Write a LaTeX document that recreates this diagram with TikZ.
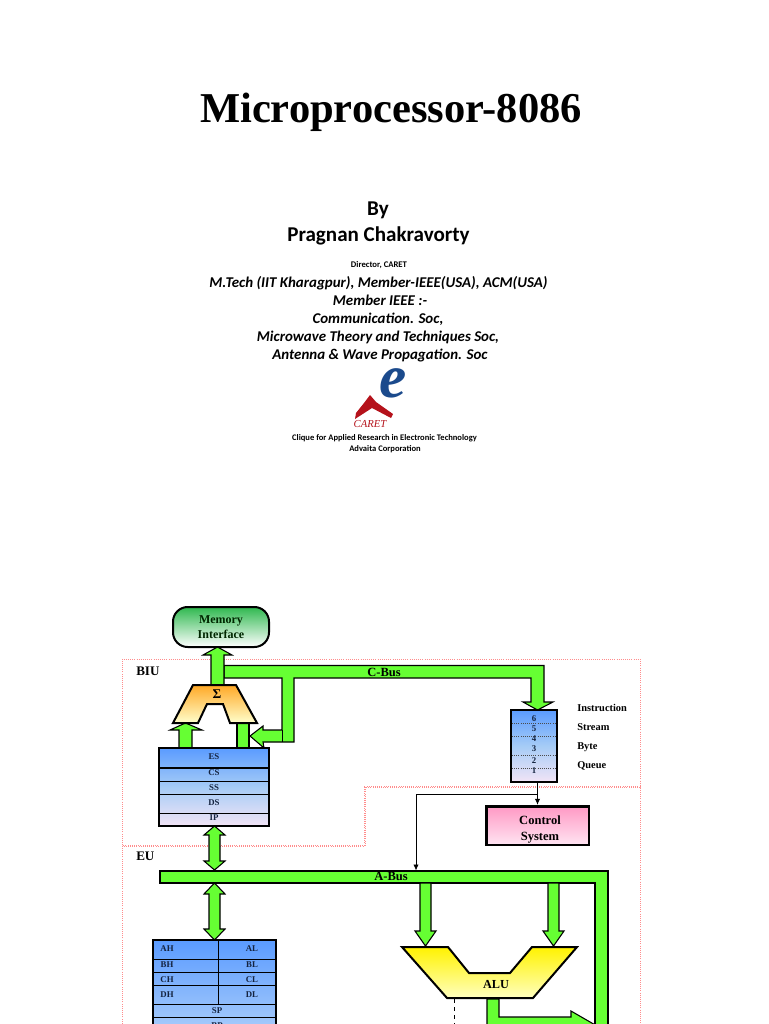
\documentclass[tikz,border=0pt]{standalone}
\usepackage{fontspec}
\usepackage{xcolor}
\setmainfont{Liberation Serif}
\newfontfamily\slidefont{Carlito}
\definecolor{busgreen}{HTML}{66FF33}
\definecolor{regtop}{HTML}{5A9BFF}
\definecolor{regmid}{HTML}{A6CCF6}
\definecolor{regend}{HTML}{F2E4F6}
\definecolor{caretred}{HTML}{B5121B}
\definecolor{caretblue}{HTML}{1B4A8C}
\definecolor{labelink}{HTML}{14233F}
\definecolor{ctrltop}{HTML}{FF99C4}
\definecolor{ctrlend}{HTML}{FFE4F2}
\definecolor{memtop}{HTML}{2FB84F}
\usetikzlibrary{arrows.meta}
% block arrow with a head at both ends: centre x, top tip, top head base, bottom head base, bottom tip
\newcommand{\blockarrow}[5]{%
  \draw[busline] (#1,#2) -- (#1+10.5,#3) -- (#1+5.5,#3) -- (#1+5.5,#4) -- (#1+10.5,#4) -- (#1,#5)
    -- (#1-10.5,#4) -- (#1-5.5,#4) -- (#1-5.5,#3) -- (#1-10.5,#3) -- cycle;}
\tikzset{
  busline/.style={draw=black,fill=busgreen,line width=0.8pt,line join=miter},
  zoneline/.style={draw=red!45,densely dotted,line width=0.6pt},
  regbox/.style={draw=black,line width=1.5pt,rectangle,inner sep=0pt},
  regrow/.style={draw=black,line width=0.75pt},
  reglabel/.style={font=\bfseries\fontsize{6.6}{7}\selectfont,text=labelink,inner sep=0pt},
  sidelabel/.style={font=\bfseries\fontsize{7.8}{9}\selectfont,inner sep=0pt,anchor=west},
  zonelabel/.style={font=\bfseries\fontsize{9.8}{10}\selectfont,inner sep=0pt,anchor=west},
  buslabel/.style={font=\bfseries\fontsize{9.4}{10}\selectfont,inner sep=0pt},
  slideline/.style={font=\slidefont\bfseries\itshape\fontsize{11.2}{13}\selectfont,inner sep=0pt,text height=8pt,text depth=2.5pt},
  smallline/.style={font=\slidefont\bfseries\fontsize{6.4}{8}\selectfont,inner sep=0pt},
  headline/.style={font=\slidefont\bfseries\fontsize{15.8}{18}\selectfont,inner sep=0pt},
  thinlink/.style={draw=black,line width=0.6pt,-{Latex[length=4.5pt,width=4pt]}}
}
\begin{document}
\begin{tikzpicture}[x=0.75pt,y=-0.75pt]
  \clip (0,0) rectangle (768,1024);
  \fill[white] (0,0) rectangle (768,1024);
  % title block
  \node[font=\bfseries\fontsize{31.9}{36}\selectfont,inner sep=0pt] (title) at (391,112) {Microprocessor-8086};
  \node[headline] (by) at (378,210) {By};
  \node[headline] (author) at (378.5,236) {Pragnan Chakravorty};
  \node[smallline,font=\slidefont\bfseries\fontsize{6.5}{8}\selectfont] (director) at (379,265) {Director, CARET};
  \node[slideline] (degree) at (378.5,283.5) {M.Tech (IIT Kharagpur), Member-IEEE(USA), ACM(USA)};
  \node[slideline] (member) at (380,301.5) {Member IEEE :-};
  \node[slideline] (comm) at (378,319.5) {Communication. Soc,};
  \node[slideline] (micro) at (378,337.5) {Microwave Theory and Techniques Soc,};
  \node[slideline] (antenna) at (380,355.5) {Antenna \& Wave Propagation. Soc};
  % logo
  \fill[caretred] (370,395) -- (376,402) -- (393,414) -- (391,418) -- (372,408) -- (355,419) -- (356,413) -- (364,403) -- cycle;
  \node[font=\bfseries\itshape\fontsize{46}{46}\selectfont,text=caretblue,inner sep=0pt] (logoe) at (393.5,383) {e};
  \node[font=\itshape\fontsize{8}{8}\selectfont,text=caretred,inner sep=0pt] (logotext) at (370,424) {CARET};
  \node[smallline] (clique) at (384.5,438) {Clique for Applied Research in Electronic Technology};
  \node[smallline] (advaita) at (385,449) {Advaita Corporation};
  % BIU and EU zones
  \draw[zoneline] (122,845) -- (122,659) -- (640,659) -- (640,787) -- (365,787) -- (365,845) -- cycle;
  \draw[zoneline] (122,1030) -- (122,846) -- (364,846) -- (364,786) -- (640,786) -- (640,1030);
  \node[zonelabel] (biu) at (136,671) {BIU};
  \node[zonelabel] (eu) at (136,856) {EU};
  % memory interface
  \node[draw=black,line width=1.5pt,rectangle,rounded corners=11pt,top color=memtop,bottom color=white,minimum width=72pt,minimum height=30pt,align=center,font=\bfseries\fontsize{9}{11.3}\selectfont,text=black!85!green,inner sep=0pt] (memory) at (221,627) {Memory\\Interface};
  % C-bus with its two branches
  \draw[busline] (224,665.5) -- (544,665.5) -- (544,702) -- (553,702) -- (537.5,710) -- (523,702) -- (531,702)
    -- (531,678) -- (294,678) -- (294,742) -- (263,742) -- (264,748) -- (250,736) -- (263,726) -- (263,730)
    -- (282,730) -- (282,678) -- (224,678) -- cycle;
  \draw[line width=0.75pt] (282,730) -- (282,742);
  \node[buslabel] (cbus) at (384,672) {C-Bus};
  % sigma adder output
  \draw[busline] (211,686) -- (211,655) -- (203,655) -- (217.5,647) -- (232,655) -- (224,655) -- (224,686) -- cycle;
  \draw[busline] (179,750) -- (179,730) -- (170,730) -- (185.5,723) -- (202,730) -- (192,730) -- (192,750) -- cycle;
  \draw[busline] (237,723) rectangle (249,748);
  % sigma adder
  \draw[draw=black,line width=1.5pt,line join=miter,top color=orange!80!yellow!85,bottom color=yellow!20] (193,685) -- (236,685) -- (257,723) -- (230,723) -- (223,704) -- (207,704) -- (198,723) -- (173,723) -- cycle;
  \node[font=\bfseries\fontsize{10}{10}\selectfont,inner sep=0pt] (sigma) at (217,694) {Σ};
  % segment registers
  \node[regbox,top color=regtop,bottom color=regend,middle color=regmid,minimum width=82.5pt,minimum height=58.5pt] (segreg) at (214,787) {};
  \draw[regrow,line width=1.3pt] (159,768) -- (269,768);
  \foreach \y in {781,794,813} \draw[regrow] (159,\y) -- (269,\y);
  \foreach \y/\t in {757/ES,773/CS,788/SS,803/DS,818/IP} \node[reglabel] (reg\t) at (214,\y) {\t};
  % double arrows to A-bus
  \blockarrow{214.5}{826}{835}{861}{870}
  % instruction queue
  \node[regbox,line width=2pt,top color=regtop,bottom color=regend,middle color=regmid,minimum width=34.5pt,minimum height=54pt] (queue) at (534,746) {};
  \foreach \y in {723,736,755,768} \draw[black!70,densely dotted,line width=0.6pt] (512,\y) -- (556,\y);
  \foreach \y/\t in {719/6,729/5,739/4,749/3,761/2,771/1} \node[reglabel] (q\t) at (534,\y) {\t};
  \foreach \y/\t in {708/Instruction,727/Stream,747/Byte,766/Queue} \node[sidelabel] (side\t) at (577,\y) {\t};
  % control system
  \node[draw=black,line width=2pt,rectangle,top color=ctrltop,bottom color=ctrlend,minimum width=77pt,minimum height=29pt,inner sep=0pt] (control) at (537.5,825.5) {};
  \node[align=center,font=\bfseries\fontsize{9.4}{11.3}\selectfont,inner sep=0pt] (controltext) at (540,829.5) {Control\\System};
  \coordinate (tap) at (537,794);
  \coordinate (abusin) at (416,870.5);
  \draw[thinlink] (control.north |- queue.south) -- (control.north);
  \draw[thinlink] (tap) -| (abusin);
  % A-bus
  \draw[busline] (160,871) -- (608,871) -- (608,1040) -- (595,1040) -- (595,883) -- (160,883) -- cycle;
  \node[buslabel] (abus) at (391,876.5) {A-Bus};
  \blockarrow{214.5}{883}{894}{929}{940}
  \draw[busline] (420,883) -- (420,931) -- (415,931) -- (425.5,946) -- (436,931) -- (431,931) -- (431,883) -- cycle;
  \draw[busline] (548,883) -- (548,931) -- (543,931) -- (553.5,946) -- (564,931) -- (559,931) -- (559,883) -- cycle;
  % ALU
  \draw[draw=black,line width=1.5pt,line join=miter,top color=yellow!90!orange,bottom color=yellow!25] (402,947) -- (448,947) -- (469,973) -- (510,973) -- (532,947) -- (577,947) -- (533,998) -- (447,998) -- cycle;
  \node[font=\bfseries\fontsize{9.2}{10}\selectfont,inner sep=0pt] (alu) at (496,984) {ALU};
  \draw[black,dashed,line width=0.6pt] (454,999) -- (454,1030);
  \draw[busline] (487,999) -- (499,999) -- (499,1017) -- (571,1017) -- (571,1011) -- (597,1026) -- (571,1041) -- (487,1041) -- cycle;
  % general registers
  \node[regbox,top color=regtop,bottom color=regmid!70,minimum width=92pt,minimum height=90pt] (genreg) at (214.5,1000) {};
  \foreach \y in {972,985,1004,1017} \draw[regrow] (153,\y) -- (276,\y);
  \draw[regrow,line width=1.3pt] (153,959.5) -- (276,959.5);
  \draw[regrow] (218,940) -- (218,1004);
  \foreach \y/\t/\r in {949/AH/AL,965/BH/BL,980/CH/CL,995/DH/DL} {
    \node[reglabel] (reg\t) at (167,\y) {\t};
    \node[reglabel] (reg\r) at (252,\y) {\r};
  }
  \node[reglabel] (regSP) at (217,1010.5) {SP};
  \node[reglabel] (regBP) at (217,1026) {BP};
\end{tikzpicture}
\end{document}
